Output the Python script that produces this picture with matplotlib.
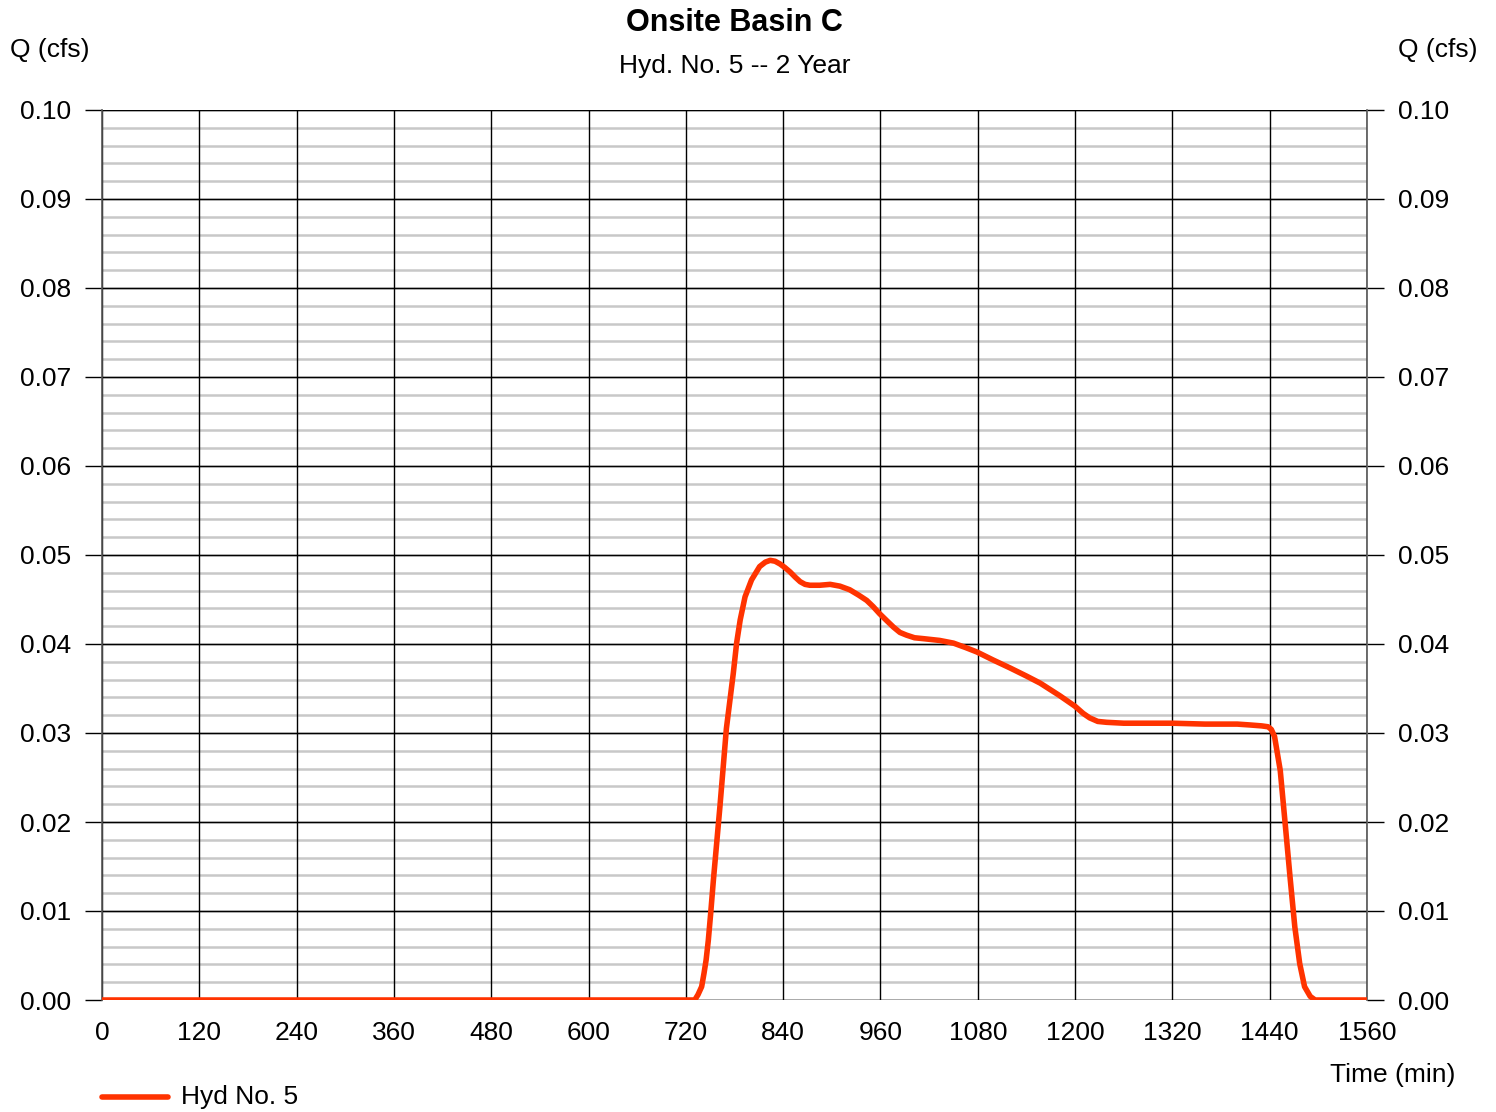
import matplotlib.pyplot as plt
from matplotlib.lines import Line2D
import numpy as np

plt.rcParams['font.family'] = ['Liberation Sans', 'DejaVu Sans']

# Hydrograph (time in min, flow in cfs)
time_min = [0, 600, 720, 731, 735, 739.5, 742.4, 745, 747.7, 750.6, 754, 762, 770,
            778.5, 782.6, 787, 793, 801, 811, 818, 824, 830, 836, 842, 848.5,
            855, 861, 867, 873, 885, 898, 910, 922, 933, 943, 951, 959, 968,
            976, 984, 992, 1002, 1013, 1033, 1050, 1065, 1079, 1099, 1120, 1140,
            1157, 1181, 1200, 1210, 1218, 1228, 1239, 1260, 1280, 1320, 1360,
            1400, 1416, 1430, 1438, 1442, 1446, 1453, 1459, 1465, 1471, 1477,
            1483, 1490, 1496, 1560]
flow_cfs = [0, 0, 0, 0.0, 0.0006, 0.0015, 0.0030, 0.0045, 0.0067, 0.0097, 0.0135,
            0.0217, 0.0305, 0.0367, 0.0401, 0.0427, 0.0453, 0.0472, 0.0487,
            0.0492, 0.0494, 0.0493, 0.0490, 0.0486, 0.0481, 0.0475, 0.0470,
            0.0467, 0.0466, 0.0466, 0.0467, 0.0465, 0.0461, 0.0455, 0.0449,
            0.0442, 0.0434, 0.0426, 0.0419, 0.0413, 0.0410, 0.0407, 0.0406,
            0.0404, 0.0401, 0.0396, 0.0391, 0.0382, 0.0373, 0.0364, 0.0356,
            0.0342, 0.0330, 0.0322, 0.0317, 0.0313, 0.0312, 0.0311, 0.0311,
            0.0311, 0.0310, 0.0310, 0.0309, 0.0308, 0.0307, 0.0304, 0.0296,
            0.0258, 0.0199, 0.0139, 0.0082, 0.0041, 0.0015, 0.0004, 0.0, 0.0]

x_ticks = list(range(0, 1561, 120))
y_ticks = [i / 100 for i in range(11)]

fig = plt.figure(figsize=(14.96, 11.12), dpi=100)
ax = fig.add_axes([102 / 1496, 1 - 1000 / 1112, 1265 / 1496, 890 / 1112])

# minor gray grid
for v in np.arange(0, 0.1001, 0.002):
    ax.axhline(v, color='#c8c8c8', lw=1.8, zorder=1)
for v in y_ticks:
    ax.axhline(v, color='black', lw=1.0, zorder=2)
for v in x_ticks:
    ax.axvline(v, color='black', lw=1.0, zorder=2)

ax.plot(time_min, flow_cfs, color='#ff3300', lw=4.0, zorder=5,
        solid_capstyle='round', solid_joinstyle='round')

ax.set_xlim(0, 1560)
ax.set_ylim(0, 0.1)
ax.set_xticks(x_ticks)
ax.set_yticks(y_ticks)
ax.set_yticklabels([f'{v:.2f}' for v in y_ticks])
ax.tick_params(axis='x', length=0, labelsize=19, pad=15)
ax.tick_params(axis='y', length=12, width=1, labelsize=19, pad=10,
               right=True, labelright=True)
for s in ['top', 'bottom']:
    ax.spines[s].set_visible(False)
for s in ['left', 'right']:
    ax.spines[s].set_color('#555555')
    ax.spines[s].set_linewidth(1.2)

fig.text(0.491, 1 - 23 / 1112, 'Onsite Basin C', ha='center', va='center',
         fontsize=22, fontweight='bold')
fig.text(0.491, 1 - 66 / 1112, 'Hyd. No. 5 -- 2 Year', ha='center', va='center',
         fontsize=19)
fig.text(10 / 1496, 1 - 50 / 1112, 'Q (cfs)', ha='left', va='center', fontsize=19)
fig.text(1477 / 1496, 1 - 50 / 1112, 'Q (cfs)', ha='right', va='center', fontsize=19)
fig.text(1455 / 1496, 1 - 1075 / 1112, 'Time (min)', ha='right', va='center', fontsize=19)

fig.add_artist(Line2D([102 / 1496, 168 / 1496], [1 - 1097 / 1112] * 2,
                      color='#ff3300', lw=4.0, solid_capstyle='round'))
fig.text(181 / 1496, 1 - 1097 / 1112, 'Hyd No. 5', ha='left', va='center', fontsize=19)

fig.savefig('out.png', dpi=100)
